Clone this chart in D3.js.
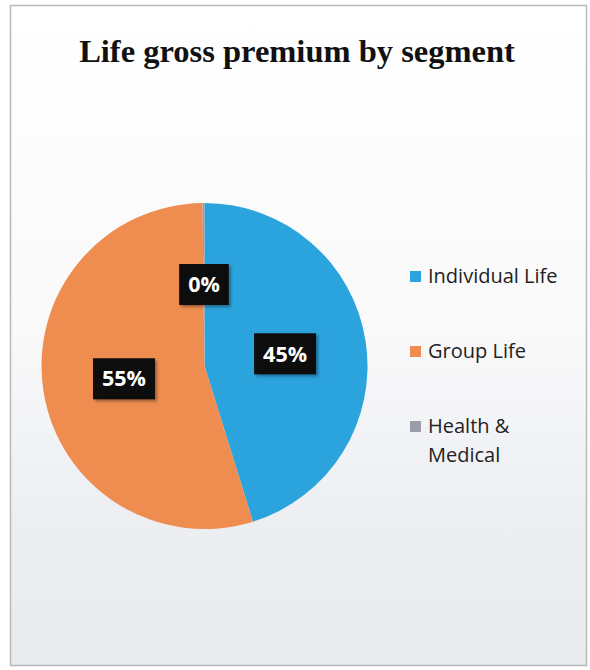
<!DOCTYPE html>
<html>
<head>
<meta charset="utf-8">
<script src="https://cdn.jsdelivr.net/npm/d3@7"></script>
<style>
  html, body { margin: 0; padding: 0; background: #ffffff; }
  svg { display: block; }
</style>
</head>
<body>
<svg id="chart" width="590" height="670"></svg>
<script>
// Segment shares of life gross premium (percent)
const segments = ["Individual Life", "Group Life", "Health & Medical"];
const shares = [45.2, 54.6, 0.2];
const colors = ["#2ba3dd", "#ee8d4f", "#9c9ca8"];
const title = "Life gross premium by segment";

const svg = d3.select("#chart");

// Panel background: white fading to a cool light grey near the bottom
const defs = svg.append("defs");
const grad = defs.append("linearGradient")
  .attr("id", "panelFill").attr("x1", 0).attr("y1", 0).attr("x2", 0).attr("y2", 1);
grad.append("stop").attr("offset", "0%").attr("stop-color", "#ffffff");
grad.append("stop").attr("offset", "50%").attr("stop-color", "#f9f9fa");
grad.append("stop").attr("offset", "78%").attr("stop-color", "#eceef2");
grad.append("stop").attr("offset", "100%").attr("stop-color", "#e8eaee");

const shadow = defs.append("filter").attr("id", "boxShadow")
  .attr("x", "-20%").attr("y", "-20%").attr("width", "150%").attr("height", "150%");
shadow.append("feDropShadow").attr("dx", 2).attr("dy", 2)
  .attr("stdDeviation", 1.5).attr("flood-color", "#000").attr("flood-opacity", 0.35);

svg.append("rect")
  .attr("x", 10.5).attr("y", 5.5).attr("width", 576).attr("height", 660)
  .attr("fill", "url(#panelFill)")
  .attr("stroke", "#b9b9bd").attr("stroke-width", 1.5);

// Title
svg.append("text")
  .attr("x", 297).attr("y", 62)
  .attr("text-anchor", "middle")
  .attr("font-family", "'Liberation Serif', 'Times New Roman', serif")
  .attr("font-weight", "bold")
  .attr("font-size", 32.5)
  .attr("fill", "#111")
  .text(title);

// Pie
const cx = 204.5, cy = 366, r = 163;
const pie = d3.pie().sort(null).value(d => d.value);
const data = segments.map((s, i) => ({ name: s, value: shares[i], color: colors[i] }));
const arcs = pie(data);
const total = d3.sum(shares);

const arc = d3.arc().innerRadius(0).outerRadius(r);

const g = svg.append("g").attr("transform", `translate(${cx},${cy})`);
g.selectAll("path.slice")
  .data(arcs)
  .join("path")
  .attr("class", "slice")
  .attr("d", arc)
  .attr("fill", d => d.data.color);

// Percentage labels in dark boxes at half radius
const fmt = d3.format(".0%");
const labels = g.selectAll("g.lbl")
  .data(arcs)
  .join("g")
  .attr("class", "lbl")
  .attr("transform", d => `translate(${arc.centroid(d)})`);

labels.each(function(d) {
  const sel = d3.select(this);
  const box = sel.append("rect").attr("fill", "#0b0b0b").attr("filter", "url(#boxShadow)");
  const t = sel.append("text")
    .attr("text-anchor", "middle")
    .attr("dy", "0.36em")
    .attr("font-family", "'Open Sans', sans-serif")
    .attr("font-weight", "bold")
    .attr("font-size", 21.5)
    .attr("fill", "#ffffff")
    .text(fmt(d.data.value / total));
  const bb = t.node().getBBox();
  const w = bb.width + 18, h = 41;
  box.attr("x", -w / 2).attr("y", -h / 2).attr("width", w).attr("height", h);
});

// Legend
const legend = svg.append("g").attr("transform", "translate(410,0)");
const legendRows = [
  { lines: ["Individual Life"], y: 283 },
  { lines: ["Group Life"], y: 358 },
  { lines: ["Health &", "Medical"], y: 433 }
];
legendRows.forEach((row, i) => {
  legend.append("rect")
    .attr("x", 0).attr("y", row.y - 12)
    .attr("width", 11).attr("height", 11)
    .attr("fill", colors[i]);
  row.lines.forEach((line, j) => {
    legend.append("text")
      .attr("x", 18).attr("y", row.y + j * 29)
      .attr("font-family", "'Open Sans', sans-serif")
      .attr("font-size", 20)
      .attr("fill", "#222")
      .text(line);
  });
});
</script>
</body>
</html>
